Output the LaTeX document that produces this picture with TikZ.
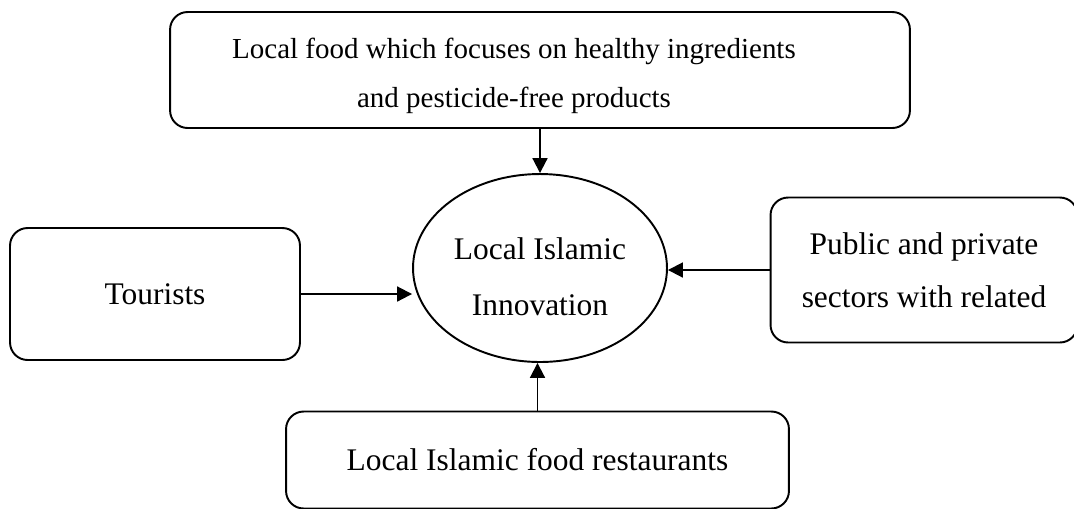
\documentclass[tikz,border=0pt]{standalone}
\usepackage{fontspec}
\setmainfont{Liberation Serif}
\usetikzlibrary{shapes.geometric,arrows.meta}

\begin{document}
\begin{tikzpicture}[x=0.02cm,y=-0.02cm,>={Triangle[length=8.5pt,width=8.5pt]},line width=1.1pt,
	box/.style={draw=black,rounded corners=10pt,align=center,inner sep=0pt},
	big/.style={font=\fontsize{17.9}{30}\selectfont}]

\clip (0,0) rectangle (1074,508);

\node [box,minimum width=14.8cm,minimum height=2.32cm] (food) at (540,70) {};
\node [align=center,font=\fontsize{16.5}{28}\selectfont] (foodtext) at (514,76)
	{Local food which focuses on healthy ingredients\\and pesticide-free products};

\node [ellipse,draw=black,inner sep=0pt,minimum width=5.08cm,minimum height=3.76cm,
	align=center,font=\fontsize{17.9}{32.4}\selectfont] (inno) at (540,268)
	{\\[-10pt]Local Islamic\\Innovation};

\node [box,big,minimum width=5.8cm,minimum height=2.64cm] (tour) at (155,294) {Tourists};
\node [box,big,minimum width=6.14cm,minimum height=2.9cm] (pub) at (924,270)
	{Public and private\\sectors with related};
\node [box,big,minimum width=10.06cm,minimum height=1.94cm] (rest) at (537.5,460)
	{Local Islamic food restaurants};

\draw [->] (food) -- (inno);
\draw [->] (tour.east) -- (tour.east -| inno.west);
\draw [->] (pub.west) -- (pub.west -| inno.east);
\draw [->] (rest.north) -- (rest.north |- inno.south);

\end{tikzpicture}
\end{document}
